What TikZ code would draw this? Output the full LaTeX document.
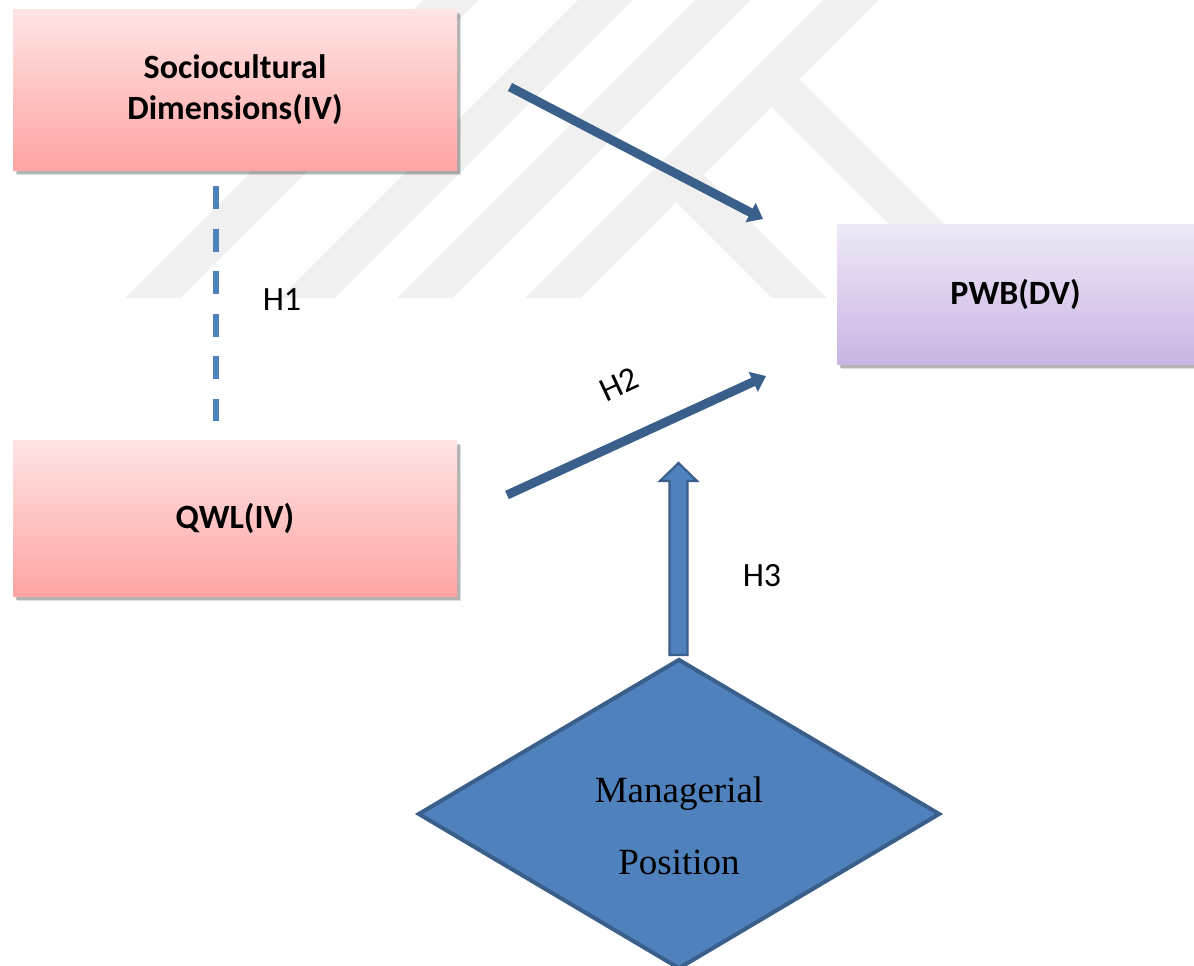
\documentclass[tikz,border=0pt]{standalone}
\usepackage{fontspec}
\setmainfont{Carlito}
\newfontfamily\tnr{Liberation Serif}
\usetikzlibrary{arrows.meta,shapes.geometric,shadows}
\definecolor{pinkTop}{HTML}{FFE4E4}
\definecolor{pinkBot}{HTML}{FFA4A4}
\definecolor{purpTop}{HTML}{EFE9F7}
\definecolor{purpBot}{HTML}{CAB4E3}
\definecolor{darkblue}{HTML}{3A5F8B}
\definecolor{midblue}{HTML}{4F81BD}
\definecolor{wmark}{HTML}{F0F0F0}
\tikzset{
  boxshadow/.style={
    drop shadow={shadow xshift=4pt,shadow yshift=-5pt,opacity=.12,fill=black},
    drop shadow={shadow xshift=2.5pt,shadow yshift=-3.5pt,opacity=.2,fill=black}},
  pinkbox/.style={rectangle,top color=pinkTop,bottom color=pinkBot,minimum width=444pt,inner sep=0pt,align=center,boxshadow,
     font=\bfseries\fontsize{34}{41}\selectfont},
  purpbox/.style={rectangle,top color=purpTop,bottom color=purpBot,minimum width=357pt,minimum height=140pt,inner sep=0pt,align=center,boxshadow,
     font=\bfseries\fontsize{34}{41}\selectfont},
  thinarrow/.style={draw=darkblue,line width=9pt,-{Triangle[length=14pt,width=21pt]}},
  hlabel/.style={font=\fontsize{34}{40}\selectfont,inner sep=0pt},
  band/.style={fill=wmark,draw=none}
}
\begin{document}
\begin{tikzpicture}[x=1pt,y=-1pt]
\useasboundingbox (0,0) rectangle (1194,966);
\clip (0,0) rectangle (1194,966);
\fill[white] (0,0) rectangle (1194,966);
% watermark bands
\fill[band] (125,298) -- (180,298) -- (478,0) -- (423,0) -- cycle;
\fill[band] (280,298) -- (335,298) -- (633,0) -- (578,0) -- cycle;
\fill[band] (397,298) -- (452,298) -- (750,0) -- (695,0) -- cycle;
\fill[band] (525,298) -- (580,298) -- (878,0) -- (823,0) -- cycle;
\fill[band] (799,79) -- (1018,298) -- (963,298) -- (771,106.5) -- cycle;
\fill[band] (703,174) -- (827,298) -- (772,298) -- (676,202) -- cycle;
% boxes
\node[pinkbox,minimum height=160pt] (soc) at (235,90) {Sociocultural\\Dimensions(IV)};
\node[pinkbox,minimum height=156pt] (qwl) at (235,518) {QWL(IV)};
\node[purpbox] (pwb) at (1015.5,294) {PWB(DV)};
% diamond
\node[diamond,draw=darkblue,line width=4pt,fill=midblue,minimum width=522pt,minimum height=310pt,inner sep=0pt,aspect=1.684] (mp) at (679,814) {};
\node[font=\tnr\fontsize{37}{72}\selectfont,align=center,inner sep=0pt] (mptext) at (679,826) {Managerial\\Position};
% connector coordinates
\coordinate (a1s) at (510,87);
\coordinate (a1e) at (763,219);
\coordinate (a2s) at (507,495);
\coordinate (a2e) at (766,376);
\coordinate (h1s) at (216,186);
\coordinate (h1e) at (216,421);
% arrows
\draw[thinarrow] (a1s) -- (a1e);
\draw[thinarrow] (a2s) -- (a2e);
\draw[midblue,line width=6pt,dash pattern=on 23pt off 19.5pt] (h1s) -- (h1e);
% block arrow H3
\draw[fill=midblue,draw=darkblue,line width=2.2pt,line join=miter]
  (669.5,655) -- (669.5,481) -- (660,481) -- (678.5,463) -- (697,481) -- (687.5,481) -- (687.5,655) -- cycle;
% labels
\node[hlabel] (h1) at (282,300) {H1};
\node[hlabel,rotate=25] (h2) at (619,384) {H2};
\node[hlabel] (h3) at (762,576) {H3};
\end{tikzpicture}
\end{document}
